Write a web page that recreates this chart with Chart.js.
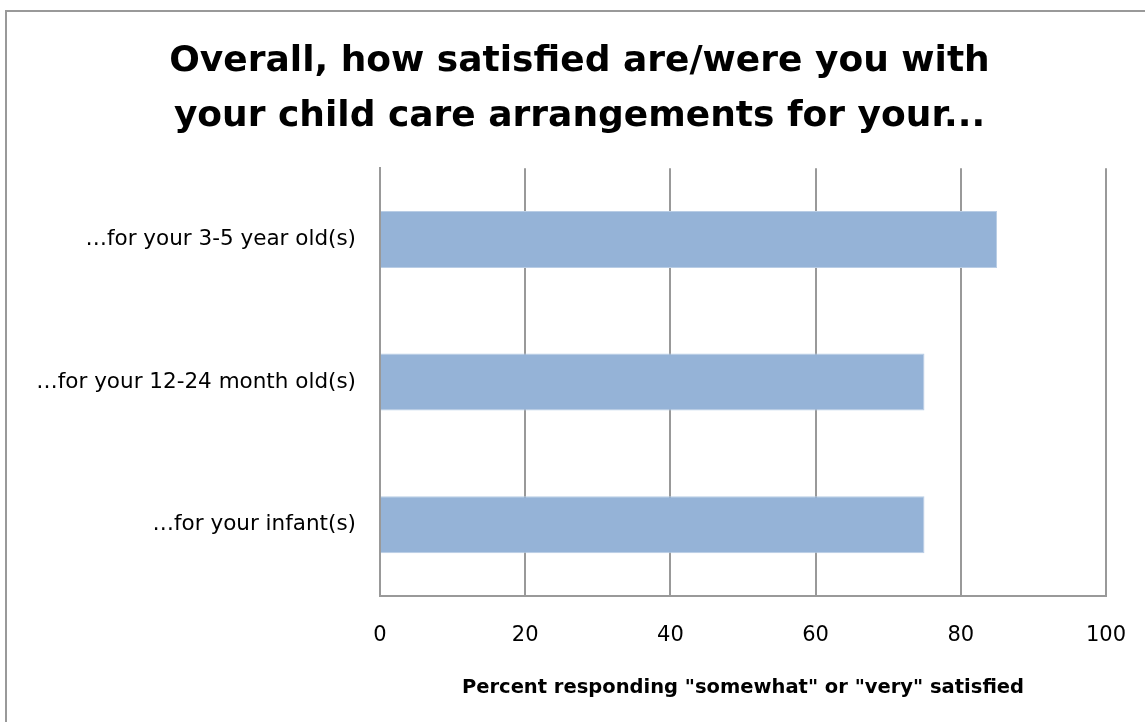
<!DOCTYPE html>
<html>
<head>
<meta charset="utf-8">
<script src="https://cdn.jsdelivr.net/npm/chart.js@4/dist/chart.umd.min.js"></script>
<style>
  html, body { margin: 0; padding: 0; background: #fff; overflow: hidden; }
  #frame {
    position: absolute; left: 5px; top: 10px; width: 1140px; height: 712px;
    border: 2px solid #999; box-sizing: border-box; border-right: none; border-bottom: none;
  }
  #satisfaction { position: absolute; left: 6px; top: 11px; }
</style>
</head>
<body>
<div id="frame"></div>
<canvas id="satisfaction" width="1147" height="711"></canvas>
<script>
const categories = [
  "\u2026for your 3-5 year old(s)",
  "\u2026for your 12-24 month old(s)",
  "\u2026for your infant(s)"
];
const satisfiedPct = [85, 75, 75];
const xTicks = [0, 20, 40, 60, 80, 100];

const font = "'DejaVu Sans', sans-serif";

new Chart(document.getElementById("satisfaction"), {
  type: "bar",
  data: {
    labels: categories,
    datasets: [
      {
        data: satisfiedPct,
        backgroundColor: "#95B3D7",
        borderColor: "#B9CDE5",
        borderWidth: 1,
        barPercentage: 0.4,
        categoryPercentage: 1,
      },
    ],
  },
  options: {
    indexAxis: "y",
    animation: false,
    responsive: false,
    devicePixelRatio: 1,
    layout: { padding: { left: 0, right: 0, top: 0, bottom: 18 } },
    plugins: {
      legend: { display: false },
      tooltip: { enabled: false },
      title: {
        display: true,
        text: ["Overall, how satisfied are/were you with", "your child care arrangements for your..."],
        color: "#000",
        font: { family: font, size: 36, weight: "bold", lineHeight: 1.53 },
        padding: { top: 23, bottom: 24 },
      },
    },
    scales: {
      x: {
        min: 0,
        max: 100,
        afterBuildTicks: (axis) => {
          axis.ticks = xTicks.map((v) => ({ value: v }));
        },
        afterFit: (axis) => {
          axis.height = 108;
        },
        grid: { color: "#999", lineWidth: 2, drawTicks: false },
        border: { color: "#999", width: 2 },
        ticks: { color: "#000", font: { family: font, size: 21 }, padding: 27 },
        title: {
          display: true,
          text: 'Percent responding "somewhat" or "very" satisfied',
          color: "#000",
          font: { family: font, size: 19.5, weight: "bold" },
          padding: { top: 20 },
        },
      },
      y: {
        afterFit: (axis) => {
          axis.width = 374;
        },
        grid: { display: false, drawTicks: false },
        border: { color: "#999", width: 2 },
        ticks: { color: "#000", font: { family: font, size: 21.5 }, padding: 24 },
      },
    },
  },
});
</script>
</body>
</html>
